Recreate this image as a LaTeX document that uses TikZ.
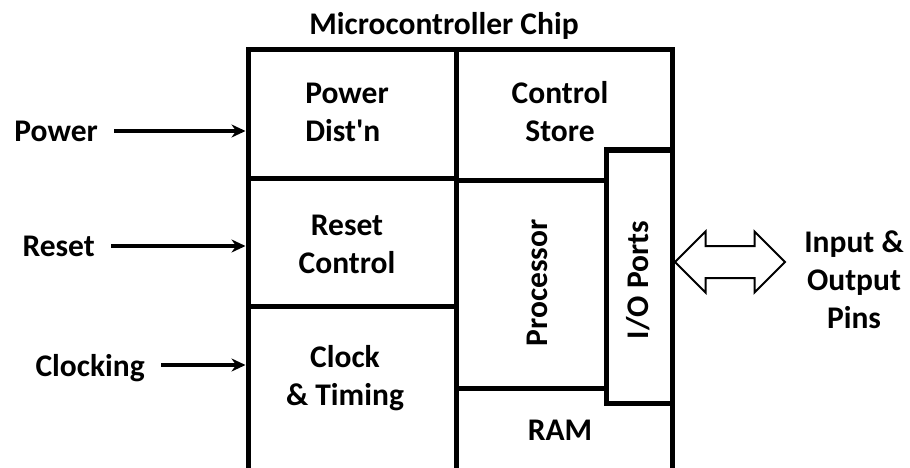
\documentclass[tikz,border=0pt]{standalone}
\usepackage{fontspec}
\setmainfont{Carlito}
\usetikzlibrary{arrows.meta, positioning, shapes.arrows}

\begin{document}
\begin{tikzpicture}[
    x=1pt, y=-1pt,
    cell/.style={draw, line width=5pt, inner sep=0pt, outer sep=0pt,
                 anchor=north west},
    txt/.style={font=\fontsize{31.5}{38}\selectfont\bfseries,
                align=center, inner sep=0pt},
    inlab/.style={txt, anchor=east, text depth=0pt},
    inarr/.style={-{Stealth[length=14pt, width=13pt]}, line width=3.5pt,
                  shorten <=16pt, shorten >=2.5pt},
    bigarr/.style={double arrow, draw, line width=2pt, fill=white,
                   minimum width=59pt, minimum height=110pt,
                   double arrow head extend=14.5pt,
                   inner xsep=0pt, inner ysep=15pt}
  ]
  \useasboundingbox (0,0) rectangle (910,468);
  \clip (0,0) rectangle (910,468);

  % Chip outline
  \node[cell, minimum width=424pt, minimum height=440pt] (chip) at (248,50) {};
  \node[txt] (title) at (444,26) {Microcontroller Chip};

  % Left column
  \node[cell, minimum width=208pt, minimum height=128pt] (pwr) at (248,50) {};
  \node[cell, minimum width=208pt, minimum height=128pt] (rst) at (248,178) {};
  \node[cell, minimum width=208pt, minimum height=184pt] (clk) at (248,306) {};

  % Right column
  \node[cell, minimum width=216pt, minimum height=130pt] (ctl) at (456,50) {};
  \node[cell, minimum width=150pt, minimum height=208pt] (proc) at (456,180) {};
  \node[cell, minimum width=216pt, minimum height=102pt] (ram) at (456,388) {};
  \node[cell, fill=white, minimum width=66pt, minimum height=253pt] (io) at (606,150) {};

  % Block names
  \node[txt, align=left] (pwrtxt) at (347,112) {Power\\Dist\textquotesingle n};
  \node[txt] (ctltxt) at (560,112) {Control\\Store};
  \node[txt] (rsttxt) at (347,244) {Reset\\Control};
  \node[txt] (clktxt) at (345,378) {Clock\\\& Timing};
  \node[txt, rotate=90] (proctxt) at (537,283) {Processor};
  \node[txt, rotate=90] (iotxt) at (638,280) {I/O Ports};
  \node[txt] (ramtxt) at (560,430) {RAM};

  % Inputs
  \node[inlab] (pwrin) at (98,131) {Power};
  \node[inlab] (rstin) at (95,246) {Reset};
  \node[inlab] (clkin) at (145,365) {Clocking};
  \draw[inarr] (pwrin.east) -- (pwrin.east -| chip.west);
  \draw[inarr] (rstin.east) -- (rstin.east -| chip.west);
  \draw[inarr] (clkin.east) -- (clkin.east -| chip.west);

  % I/O pins
  \node[bigarr] (iopins) at (730,262) {};
  \node[txt] (pinstxt) at (854,280) {Input \&\\Output\\Pins};
\end{tikzpicture}
\end{document}
